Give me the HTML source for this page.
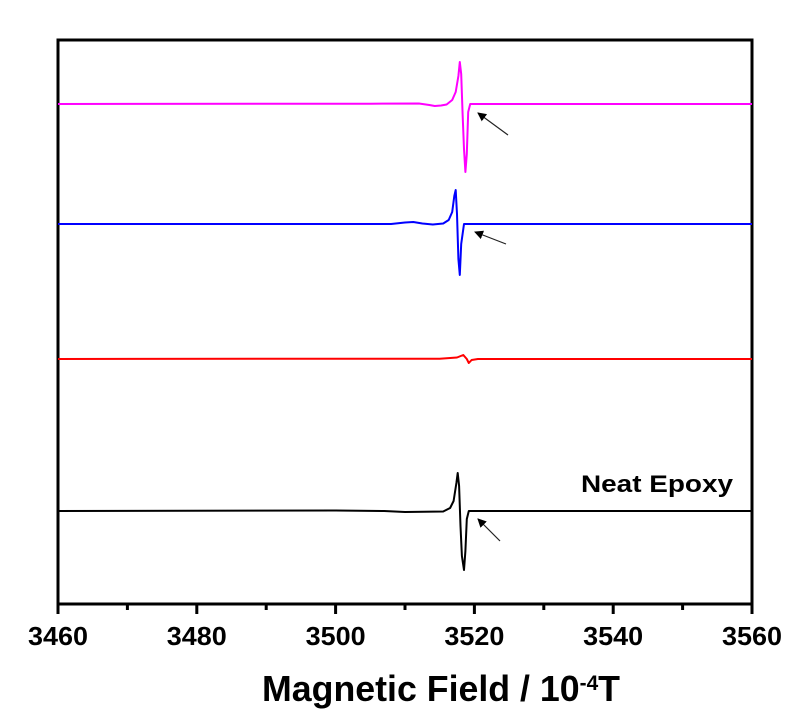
<!DOCTYPE html>
<html><head><meta charset="utf-8"><style>body{margin:0;background:#fff}svg{display:block}text{font-family:"Liberation Sans",Arial,sans-serif;font-weight:bold}</style></head>
<body>
<svg id="c" width="800" height="725"></svg>
<script>
const xTicks=[3460,3480,3500,3520,3540,3560];
const xTickLabels=["3460","3480","3500","3520","3540","3560"];
const fieldMagenta=[3460,3505,3512,3513.5,3514.3,3515.2,3516,3516.8,3517.3,3517.7,3517.9,3518.1,3518.3,3518.5,3518.7,3518.9,3519.1,3519.4,3560];
const valMagenta=[0,0.3,0.5,-1,-2,-1.5,-0.5,4,12,28,42,30,-10,-45,-68,-50,-8,0,0];
const fieldBlue=[3460,3508,3510,3511.2,3512.5,3514,3515.5,3516.3,3516.8,3517.1,3517.3,3517.5,3517.7,3517.9,3518.1,3518.5,3560];
const valBlue=[0,0,1.5,2,0.5,-0.5,0.5,4,12,28,34,10,-35,-51,-20,0,0];
const fieldRed=[3460,3500,3515,3517.5,3518.4,3518.9,3519.2,3519.6,3520.5,3560];
const valRed=[0,0.3,0.3,1.5,4,0,-4,-1,0,0];
const fieldBlack=[3460,3500,3507,3510,3515.5,3516.5,3517.0,3517.4,3517.6,3517.8,3518.0,3518.2,3518.5,3518.7,3518.9,3519.2,3560];
const valBlack=[0,0.5,0,-1,-0.5,3,10,28,38,25,-15,-45,-59,-40,-8,0,0];
const offsets=[407,287,152,0];
const NS="http://www.w3.org/2000/svg";
const svg=document.getElementById('c');
const L=58,R=752,T=40,B=604;
const xs=v=>L+(v-3460)/(3560-3460)*(R-L);
const ys=v=>511-v;
function mk(t,a){const e=document.createElementNS(NS,t);for(const k in a)e.setAttribute(k,a[k]);svg.appendChild(e);return e;}
const frame=mk('rect',{x:L,y:T,width:R-L,height:B-T,fill:'none',stroke:'#000','stroke-width':3});


for(let v=3460;v<=3560;v+=10){const maj=(v%20===0);
const t=mk('line',{x1:xs(v),x2:xs(v),y1:B,y2:B+(maj?10:6),stroke:'#000','stroke-width':3});

}
xTicks.forEach((v,i)=>{const t=mk('text',{x:xs(v),y:645,'text-anchor':'middle','font-size':26,textLength:60,lengthAdjust:'spacingAndGlyphs'});t.textContent=xTickLabels[i];

});
const title=mk('text',{x:441,y:701,'text-anchor':'middle','font-size':36,textLength:358,lengthAdjust:'spacingAndGlyphs'});
title.innerHTML='Magnetic Field / 10<tspan baseline-shift="super" font-size="21">-4</tspan>T';


const series=[[fieldMagenta,valMagenta,'#ff00ff','magenta-trace'],[fieldBlue,valBlue,'#0000ff','blue-trace'],[fieldRed,valRed,'#ff0000','red-trace'],[fieldBlack,valBlack,'#000000','neat-epoxy-trace']];
series.forEach((s,i)=>{const d=s[0].map((f,j)=>(j?'L':'M')+xs(f).toFixed(1)+' '+(ys(s[1][j]+offsets[i])).toFixed(1)).join(' ');
const p=mk('path',{d:d,fill:'none',stroke:s[2],'stroke-width':2,'stroke-linejoin':'round'});

});
mk('defs',{}).innerHTML='<marker id="ah" markerWidth="9" markerHeight="9" refX="8" refY="4.5" orient="auto" markerUnits="userSpaceOnUse"><path d="M0,0 L9,4.5 L0,9 z" fill="#000"/></marker>';
[[508,135,478,113,'arrow-magenta'],[506,244,475,232,'arrow-blue'],[500,541,478,519,'arrow-neat-epoxy']].forEach(a=>{
const l=mk('line',{x1:a[0],y1:a[1],x2:a[2],y2:a[3],stroke:'#222','stroke-width':1.2,'marker-end':'url(#ah)'});

});
const lab=mk('text',{x:581,y:492,'font-size':24,textLength:152,lengthAdjust:'spacingAndGlyphs'});lab.textContent='Neat Epoxy';


</script>
</body></html>
